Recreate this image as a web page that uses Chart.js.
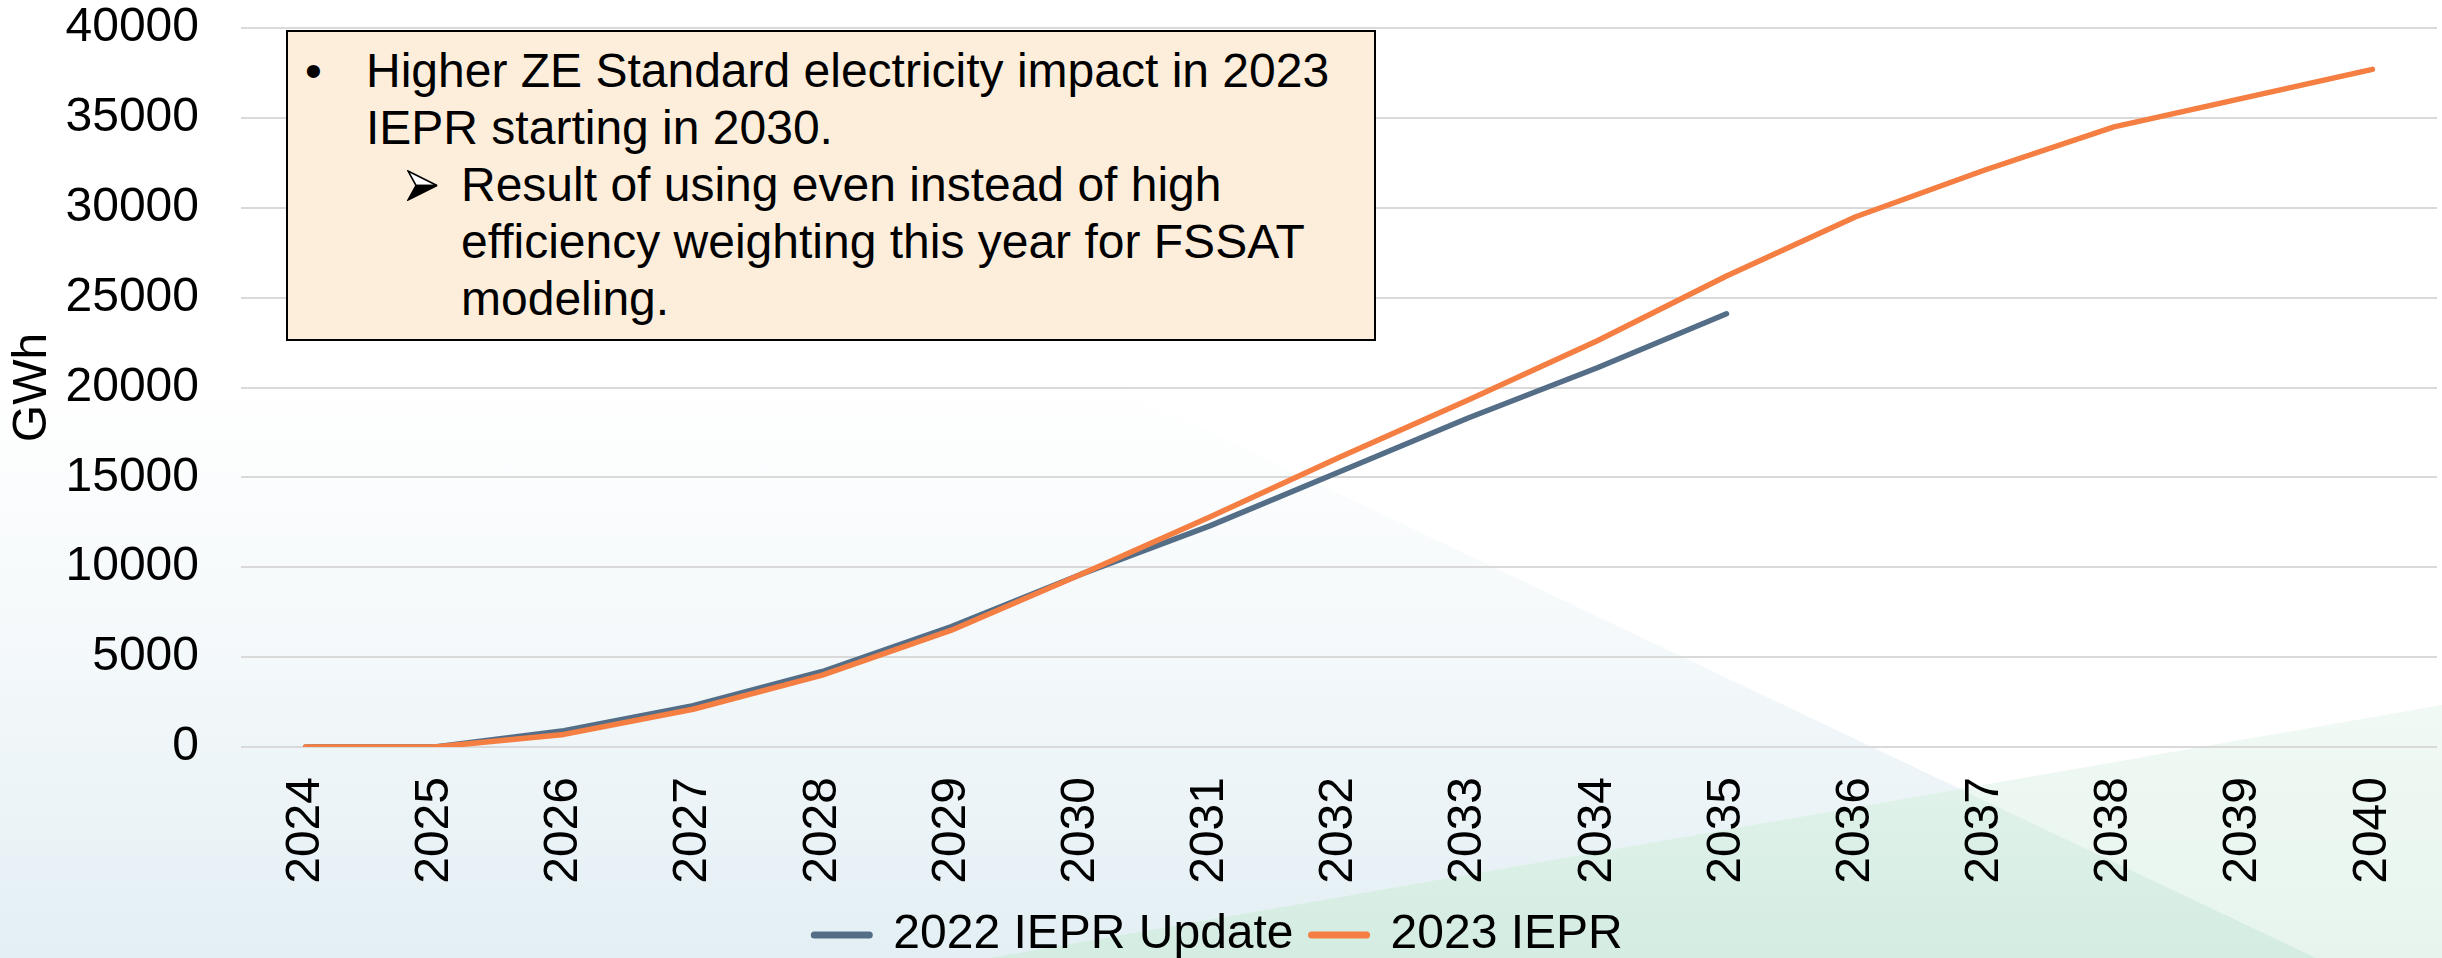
<!DOCTYPE html>
<html>
<head>
<meta charset="utf-8">
<script src="https://cdn.jsdelivr.net/npm/chart.js@4.4.1/dist/chart.umd.min.js"></script>
<style>
  html, body { margin: 0; padding: 0; }
  body { width: 2442px; height: 958px; position: relative; overflow: hidden; background: #ffffff;
         font-family: "Liberation Sans", Arial, sans-serif; }
  .bg { position: absolute; left: 0; top: 0; width: 2442px; height: 958px; }
  #bgA { background: linear-gradient(to bottom, #ffffff 0%, #ffffff 40%, #f3f8fa 70%, #e3eff4 100%);
         clip-path: polygon(0px 0px, 300px 0px, 2316px 958px, 0px 958px); }
  #bgB { background: linear-gradient(to bottom, #f0f9f4 75%, #e7f4ee 100%);
         clip-path: polygon(990px 958px, 2442px 705px, 2442px 958px); }
  #bgC { background: linear-gradient(to bottom, #e0f2ea 82%, #d4ece2 100%);
         clip-path: polygon(990px 958px, 1960px 789px, 2316px 958px); }
  #c { position: absolute; left: 0; top: 0; }
  #note { position: absolute; left: 286px; top: 30px; width: 1090px; height: 311px; box-sizing: border-box;
          border: 2px solid #000; background: #fdeedc; z-index: 5; }
  .ln { position: absolute; font-size: 48px; line-height: 57px; color: #000; white-space: nowrap;
        font-family: "Liberation Sans", Arial, sans-serif; }
  #arrow { position: absolute; left: 119px; top: 138px; width: 31px; height: 31px; }
</style>
</head>
<body>
<div class="bg" id="bgA"></div>
<div class="bg" id="bgB"></div>
<div class="bg" id="bgC"></div>
<canvas id="c" width="2442" height="958"></canvas>
<div id="note">
  <div class="ln" style="left:17px; top:10px;">•</div>
  <div class="ln" style="left:78px; top:10px;">Higher ZE Standard electricity impact in 2023</div>
  <div class="ln" style="left:78px; top:67px;">IEPR starting in 2030.</div>
  <svg id="arrow" viewBox="0 0 31 31" aria-label="➢">
    <polygon points="1,1 30,15.5 9,15.5" fill="#ffffff" stroke="#000" stroke-width="1.6" stroke-linejoin="miter"/>
    <polygon points="9,15.5 30,15.5 1,30" fill="#000" stroke="#000" stroke-width="1.6" stroke-linejoin="miter"/>
  </svg>
  <div class="ln" style="left:173px; top:124px;">Result of using even instead of high</div>
  <div class="ln" style="left:173px; top:181px;">efficiency weighting this year for FSSAT</div>
  <div class="ln" style="left:173px; top:238px;">modeling.</div>
</div>
<script>
const categories = ['2024','2025','2026','2027','2028','2029','2030','2031','2032','2033','2034','2035','2036','2037','2038','2039','2040'];
const iepr2022Update = [0, 0, 900, 2300, 4200, 6700, 9600, 12300, 15300, 18300, 21100, 24100];
const iepr2023 = [0, 0, 700, 2100, 4000, 6500, 9600, 12800, 16100, 19300, 22600, 26200, 29500, 32100, 34500, 36100, 37700];
const seriesNames = ['2022 IEPR Update', '2023 IEPR'];
const yMin = 0, yMax = 40000, yStep = 5000;
const yTitle = 'GWh';

const FONT = '"Liberation Sans", Arial, sans-serif';
const font48 = { family: FONT, size: 48 };

new Chart(document.getElementById('c'), {
  type: 'line',
  data: {
    labels: categories,
    datasets: [
      { label: seriesNames[0], data: iepr2022Update, borderColor: '#546e87', backgroundColor: '#546e87', order: 1,
        borderWidth: 5.5, pointRadius: 0, tension: 0, borderCapStyle: 'round', borderJoinStyle: 'round' },
      { label: seriesNames[1], data: iepr2023, borderColor: '#f57f43', backgroundColor: '#f57f43', order: 0,
        borderWidth: 5.5, pointRadius: 0, tension: 0, borderCapStyle: 'round', borderJoinStyle: 'round' }
    ]
  },
  options: {
    responsive: false,
    devicePixelRatio: 1,
    animation: false,
    layout: { padding: { left: 0, right: 5, top: 0, bottom: -11 } },
    plugins: {
      tooltip: { enabled: false },
      legend: {
        position: 'bottom',
        labels: {
          usePointStyle: true,
          pointStyle: 'line',
          pointStyleWidth: 55,
          padding: 18,
          color: '#000',
          font: font48,
          sort: (a, b) => a.datasetIndex - b.datasetIndex,
          generateLabels(chart) {
            const items = Chart.defaults.plugins.legend.labels.generateLabels(chart);
            items.forEach(it => { it.lineWidth = 7; it.lineCap = 'round'; it.pointStyle = 'line'; });
            return items;
          }
        }
      }
    },
    scales: {
      x: {
        offset: true,
        grid: { display: false },
        border: { display: false },
        ticks: { autoSkip: false, maxRotation: 90, minRotation: 90, padding: 22, color: '#000', font: font48 },
        afterFit(s) { s.height = 146; s.paddingLeft = 0; s.paddingRight = 0; }
      },
      y: {
        min: yMin, max: yMax,
        grid: { color: '#d9d9d9', lineWidth: 2, drawTicks: false },
        border: { display: false },
        ticks: { stepSize: yStep, padding: 42, color: '#000', font: font48, callback: v => String(v) },
        title: { display: true, text: yTitle, color: '#000', font: font48, padding: { top: 4, bottom: 4 } },
        afterFit(s) { s.width = 241; s.paddingTop = 28; s.paddingBottom = 0; }
      }
    }
  }
});
</script>
</body>
</html>
